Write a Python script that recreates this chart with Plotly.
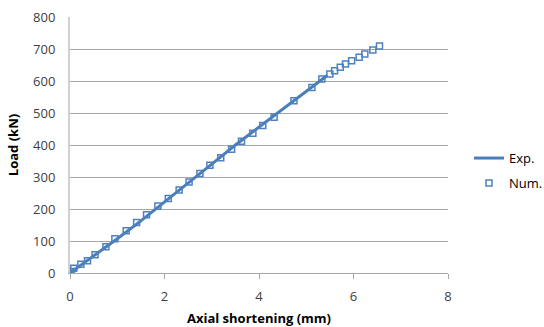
import plotly.graph_objects as go

# Experimental load-shortening curve
exp_shortening = [0.0, 0.5, 1.0, 1.5, 2.0, 2.5, 3.0, 3.5, 4.0, 4.5, 5.0, 5.45]
exp_load = [0, 53, 107, 163, 221, 280, 340, 400, 456, 511, 566, 618]

# Numerical model results
num_shortening = [0.0, 0.03, 0.08, 0.23, 0.37, 0.53, 0.76, 0.95, 1.19, 1.41, 1.62,
                  1.86, 2.08, 2.31, 2.52, 2.75, 2.96, 3.19, 3.42, 3.63, 3.87, 4.08,
                  4.32, 4.74, 5.12, 5.33, 5.50, 5.60, 5.72, 5.83, 5.96, 6.12, 6.24,
                  6.41, 6.55]
num_load = [0, 5, 15, 27, 38, 57, 82, 107, 132, 158, 182, 209, 233, 259, 284, 311,
            337, 360, 387, 412, 437, 461, 487, 538, 580, 606, 622, 632, 643, 653,
            663, 674, 684, 697, 709]

x_ticks = [0, 2, 4, 6, 8]
y_ticks = [0, 100, 200, 300, 400, 500, 600, 700, 800]

blue = "#4a7ebb"
font_family = "Open Sans, Liberation Sans, sans-serif"

W, H = 544, 327
ML, MR, MT, MB = 70, 96, 17, 54
legend_x = (469 - ML) / (W - ML - MR)

fig = go.Figure()
fig.add_trace(go.Scatter(
    x=exp_shortening, y=exp_load, mode="lines", name="Exp.",
    line=dict(color=blue, width=3), legendgroup="a",
))
fig.add_trace(go.Scatter(
    x=num_shortening, y=num_load, mode="markers", name="Num.",
    marker=dict(symbol="square-open", size=6, color="#4f81bd",
                line=dict(width=1.5, color="#4f81bd")),
    legendgroup="b",
))

fig.update_layout(
    width=W, height=H,
    margin=dict(l=ML, r=MR, t=MT, b=MB, autoexpand=False),
    paper_bgcolor="white", plot_bgcolor="white",
    font=dict(family=font_family, size=13, color="#404040"),
    showlegend=True,
    legend=dict(x=legend_x, y=0.40, xanchor="left", yanchor="middle",
                font=dict(size=13, color="#000000"), tracegroupgap=5,
                bgcolor="rgba(0,0,0,0)"),
    xaxis=dict(
        range=[0, 8], tickvals=x_ticks, showgrid=False, zeroline=False,
        showline=True, linecolor="#a6a6a6", linewidth=1,
        ticks="outside", ticklen=5, tickcolor="#a6a6a6",
        ticklabelstandoff=6,
        tickfont=dict(size=13, color="#404040"),
        title=dict(text="<b>Axial shortening (mm)</b>", standoff=10,
                   font=dict(size=13, color="#000000")),
    ),
    yaxis=dict(
        range=[0, 800], tickvals=y_ticks, showgrid=True, gridcolor="#a6a6a6",
        gridwidth=1, zeroline=False, showline=True, linecolor="#d0d0d0",
        linewidth=2, ticks="", ticklabelstandoff=10,
        tickfont=dict(size=13, color="#404040"),
        title=dict(text="<b>Load (kN)</b>", standoff=12,
                   font=dict(size=13, color="#000000")),
    ),
)

fig.write_html("out.html")
